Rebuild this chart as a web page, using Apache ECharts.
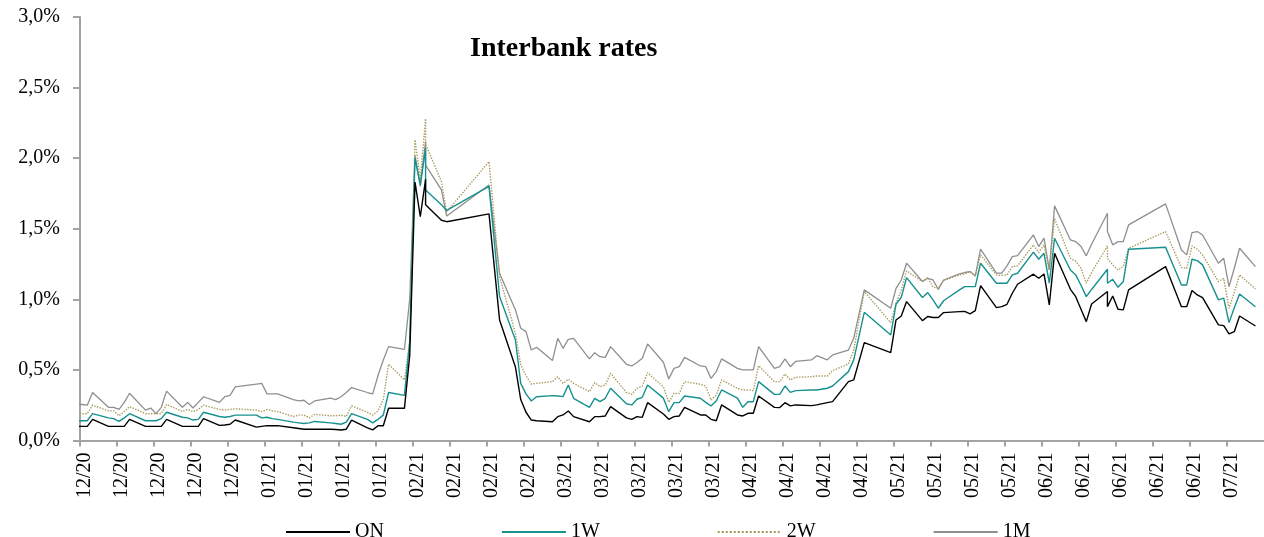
<!DOCTYPE html>
<html>
<head>
<meta charset="utf-8">
<script src="https://cdn.jsdelivr.net/npm/echarts@6/dist/echarts.min.js"></script>
<style>
html,body{margin:0;padding:0;background:#fff;}
#chart{width:1264px;height:537px;}
</style>
</head>
<body>
<div id="chart"></div>
<script>
// ---- data (values in %) ----
const dates = [
 '2020-12-01','2020-12-02','2020-12-03','2020-12-04','2020-12-07','2020-12-08','2020-12-09','2020-12-10','2020-12-11','2020-12-14','2020-12-15','2020-12-16','2020-12-17','2020-12-18','2020-12-21','2020-12-22','2020-12-23','2020-12-24','2020-12-25','2020-12-28','2020-12-29','2020-12-30','2020-12-31',
 '2021-01-04','2021-01-05','2021-01-06','2021-01-07','2021-01-08','2021-01-11','2021-01-12','2021-01-13','2021-01-14','2021-01-15','2021-01-18','2021-01-19','2021-01-20','2021-01-21','2021-01-22','2021-01-25','2021-01-26','2021-01-27','2021-01-28','2021-01-29',
 '2021-02-01','2021-02-02','2021-02-03','2021-02-04','2021-02-05','2021-02-05','2021-02-08','2021-02-09','2021-02-17','2021-02-19','2021-02-22','2021-02-23','2021-02-24','2021-02-25','2021-02-26',
 '2021-03-01','2021-03-02','2021-03-03','2021-03-04','2021-03-05','2021-03-08','2021-03-09','2021-03-10','2021-03-11','2021-03-12','2021-03-15','2021-03-16','2021-03-17','2021-03-18','2021-03-19','2021-03-22','2021-03-23','2021-03-24','2021-03-25','2021-03-26','2021-03-29','2021-03-30','2021-03-31',
 '2021-04-01','2021-04-02','2021-04-05','2021-04-06','2021-04-07','2021-04-08','2021-04-09','2021-04-12','2021-04-13','2021-04-14','2021-04-15','2021-04-16','2021-04-19','2021-04-20','2021-04-22','2021-04-23','2021-04-26','2021-04-27','2021-04-29',
 '2021-05-04','2021-05-05','2021-05-06','2021-05-07','2021-05-10','2021-05-11','2021-05-12','2021-05-13','2021-05-14','2021-05-17','2021-05-18','2021-05-19','2021-05-20','2021-05-21','2021-05-24','2021-05-25','2021-05-26','2021-05-27','2021-05-28','2021-05-31',
 '2021-06-01','2021-06-02','2021-06-03','2021-06-04','2021-06-07','2021-06-08','2021-06-09','2021-06-10','2021-06-11','2021-06-14','2021-06-14','2021-06-15','2021-06-16','2021-06-17','2021-06-18','2021-06-25','2021-06-28','2021-06-29','2021-06-30',
 '2021-07-01','2021-07-02','2021-07-05','2021-07-06','2021-07-07','2021-07-08','2021-07-09','2021-07-12'
];
const onRate = [
 0.10,0.10,0.10,0.15,0.10,0.10,0.10,0.10,0.15,0.10,0.10,0.10,0.10,0.15,0.10,0.10,0.10,0.10,0.155,0.107,0.11,0.115,0.145,
 0.095,0.10,0.105,0.105,0.105,0.09,0.085,0.08,0.08,0.08,0.08,0.078,0.074,0.08,0.145,0.09,0.075,0.105,0.105,0.228,
 0.228,0.60,1.83,1.585,1.85,1.67,1.56,1.55,1.605,0.854,0.52,0.29,0.20,0.145,0.14,
 0.133,0.169,0.181,0.209,0.169,0.133,0.169,0.169,0.174,0.24,0.16,0.15,0.169,0.164,0.268,0.188,0.15,0.169,0.174,0.235,0.181,0.181,0.15,
 0.14,0.252,0.181,0.174,0.193,0.193,0.315,0.235,0.233,0.268,0.245,0.252,0.247,0.252,0.268,0.275,0.417,0.429,0.693,
 0.622,0.854,0.882,0.984,0.849,0.878,0.871,0.871,0.906,0.913,0.915,0.897,0.92,1.097,0.941,0.948,0.965,1.043,1.107,1.178,
 1.149,1.18,0.96,1.326,1.071,1.019,0.93,0.842,0.967,1.055,0.948,1.024,0.93,0.925,1.067,1.232,0.948,0.948,1.062,
 1.031,1.012,0.819,0.814,0.755,0.771,0.882,0.811
];
const w1Rate = [
 0.14,0.14,0.14,0.19,0.16,0.155,0.135,0.16,0.19,0.14,0.14,0.14,0.155,0.20,0.165,0.16,0.145,0.15,0.20,0.17,0.165,0.17,0.18,
 0.18,0.16,0.165,0.155,0.15,0.13,0.125,0.12,0.125,0.135,0.125,0.12,0.115,0.13,0.19,0.15,0.125,0.15,0.18,0.34,
 0.32,0.70,2.00,1.81,2.07,1.775,1.67,1.63,1.80,1.02,0.712,0.405,0.33,0.28,0.31,
 0.318,0.315,0.311,0.393,0.299,0.235,0.299,0.275,0.299,0.37,0.26,0.252,0.292,0.306,0.393,0.30,0.204,0.268,0.268,0.315,0.299,0.27,0.245,
 0.28,0.358,0.30,0.235,0.275,0.275,0.417,0.327,0.327,0.386,0.341,0.353,0.358,0.358,0.37,0.386,0.488,0.571,0.908,
 0.748,0.965,1.015,1.154,1.013,1.048,0.996,0.937,0.99,1.067,1.09,1.09,1.09,1.256,1.114,1.114,1.114,1.173,1.185,1.334,
 1.284,1.326,1.114,1.433,1.208,1.173,1.10,1.019,1.07,1.213,1.114,1.142,1.085,1.126,1.355,1.369,1.102,1.102,1.284,
 1.274,1.244,0.996,1.008,0.835,0.94,1.038,0.948
];
const w2Rate = [
 0.19,0.19,0.19,0.25,0.21,0.21,0.175,0.205,0.24,0.19,0.19,0.19,0.19,0.255,0.205,0.22,0.205,0.22,0.25,0.22,0.215,0.22,0.225,
 0.215,0.205,0.22,0.21,0.205,0.17,0.18,0.18,0.16,0.185,0.175,0.175,0.18,0.17,0.245,0.20,0.18,0.21,0.29,0.54,
 0.43,0.70,2.13,1.85,2.28,2.10,1.834,1.62,1.976,1.16,0.76,0.535,0.46,0.40,0.405,
 0.417,0.452,0.405,0.434,0.405,0.346,0.41,0.381,0.393,0.476,0.34,0.327,0.37,0.386,0.48,0.38,0.27,0.334,0.334,0.417,0.398,0.386,0.287,
 0.322,0.429,0.37,0.358,0.358,0.353,0.53,0.417,0.417,0.471,0.429,0.448,0.452,0.457,0.457,0.495,0.542,0.641,1.055,
 0.835,0.972,1.067,1.201,1.126,1.156,1.086,1.079,1.133,1.173,1.18,1.197,1.166,1.315,1.173,1.17,1.173,1.232,1.237,1.386,
 1.331,1.386,1.208,1.57,1.291,1.27,1.22,1.114,1.19,1.378,1.29,1.244,1.208,1.232,1.362,1.48,1.225,1.22,1.378,
 1.355,1.315,1.126,1.149,0.937,1.05,1.173,1.074
];
const m1Rate = [
 0.26,0.255,0.25,0.34,0.235,0.235,0.22,0.27,0.335,0.215,0.23,0.19,0.235,0.35,0.235,0.27,0.23,0.27,0.31,0.27,0.31,0.32,0.38,
 0.40,0.405,0.33,0.33,0.33,0.29,0.28,0.285,0.255,0.28,0.30,0.29,0.31,0.34,0.375,0.34,0.33,0.46,0.57,0.665,
 0.645,1.00,2.02,1.80,2.12,1.95,1.775,1.59,1.81,1.185,0.925,0.795,0.771,0.641,0.66,
 0.566,0.724,0.653,0.717,0.724,0.578,0.622,0.594,0.589,0.665,0.54,0.528,0.552,0.582,0.684,0.554,0.436,0.511,0.523,0.589,0.528,0.523,0.44,
 0.488,0.578,0.511,0.50,0.50,0.50,0.665,0.511,0.523,0.578,0.523,0.56,0.571,0.601,0.571,0.606,0.641,0.724,1.067,
 0.937,1.078,1.137,1.256,1.126,1.149,1.137,1.071,1.137,1.18,1.19,1.197,1.166,1.355,1.185,1.185,1.237,1.303,1.31,1.456,
 1.374,1.433,1.208,1.662,1.421,1.409,1.374,1.308,1.39,1.61,1.48,1.386,1.409,1.409,1.527,1.676,1.35,1.315,1.473,
 1.48,1.456,1.256,1.291,1.09,1.22,1.362,1.232
];
const tickLabels = [
 '12/20','12/20','12/20','12/20','12/20',
 '01/21','01/21','01/21','01/21',
 '02/21','02/21','02/21','02/21',
 '03/21','03/21','03/21','03/21','03/21',
 '04/21','04/21','04/21','04/21',
 '05/21','05/21','05/21','05/21',
 '06/21','06/21','06/21','06/21','06/21',
 '07/21'
];
const seriesNames = ['ON','1W','2W','1M'];

// axis origin: first weekly tick, in days after the first date
const firstTickOffset = 0.62;
const DAY = 86400000;
const t0 = Date.parse(dates[0]);
const xs = dates.map(s => (Date.parse(s) - t0) / DAY - firstTickOffset);
const pairs = arr => arr.map((v, i) => [xs[i], v]);

const serif = 'Liberation Serif';
const axisGray = '#a3a3a3';

const chart = echarts.init(document.getElementById('chart'), null, {renderer: 'canvas'});
chart.setOption({
  animation: false,
  backgroundColor: '#ffffff',
  title: {
    text: 'Interbank rates',
    left: 465, top: 30,
    textStyle: {fontFamily: serif, fontWeight: 'bold', fontSize: 28, color: '#000'}
  },
  legend: {
    data: seriesNames,
    left: 280, top: 517,
    itemWidth: 64, itemHeight: 12, itemGap: 117,
    itemStyle: {opacity: 0},
    textStyle: {fontFamily: serif, fontSize: 20, color: '#000'}
  },
  grid: {left: 80, right: -10.4, top: 17, bottom: 96.5, containLabel: false},
  xAxis: {
    type: 'value',
    min: 0, max: tickLabels.length * 7, interval: 7,
    axisLine: {show: true, lineStyle: {color: axisGray, width: 2}},
    axisTick: {show: true, length: 6, lineStyle: {color: axisGray, width: 2}},
    splitLine: {show: false},
    axisLabel: {
      rotate: 90, margin: 12,
      fontFamily: serif, fontSize: 20, color: '#000',
      verticalAlign: 'top', lineHeight: 10,
      showMaxLabel: false,
      formatter: v => tickLabels[Math.round(v / 7)] || ''
    }
  },
  yAxis: {
    type: 'value',
    min: 0, max: 3, interval: 0.5,
    axisLine: {show: true, lineStyle: {color: axisGray, width: 2}},
    axisTick: {show: true, length: 7, lineStyle: {color: axisGray, width: 2}},
    splitLine: {show: false},
    axisLabel: {
      margin: 20, fontFamily: serif, fontSize: 20, color: '#000',
      formatter: v => v.toFixed(1).replace('.', ',') + '%'
    }
  },
  series: [
    {name: 'ON', type: 'line', data: pairs(onRate), symbol: 'none', z: 5,
     lineStyle: {color: '#000000', width: 1.4}, itemStyle: {color: '#000000'}},
    {name: '1W', type: 'line', data: pairs(w1Rate), symbol: 'none', z: 4,
     lineStyle: {color: '#16918f', width: 1.4}, itemStyle: {color: '#16918f'}},
    {name: '2W', type: 'line', data: pairs(w2Rate), symbol: 'none', z: 3,
     lineStyle: {color: '#a89a5e', width: 1.4, type: 'dotted'}, itemStyle: {color: '#a89a5e'}},
    {name: '1M', type: 'line', data: pairs(m1Rate), symbol: 'none', z: 2,
     lineStyle: {color: '#8f8f8f', width: 1.3}, itemStyle: {color: '#8f8f8f'}}
  ]
});
</script>
</body>
</html>
